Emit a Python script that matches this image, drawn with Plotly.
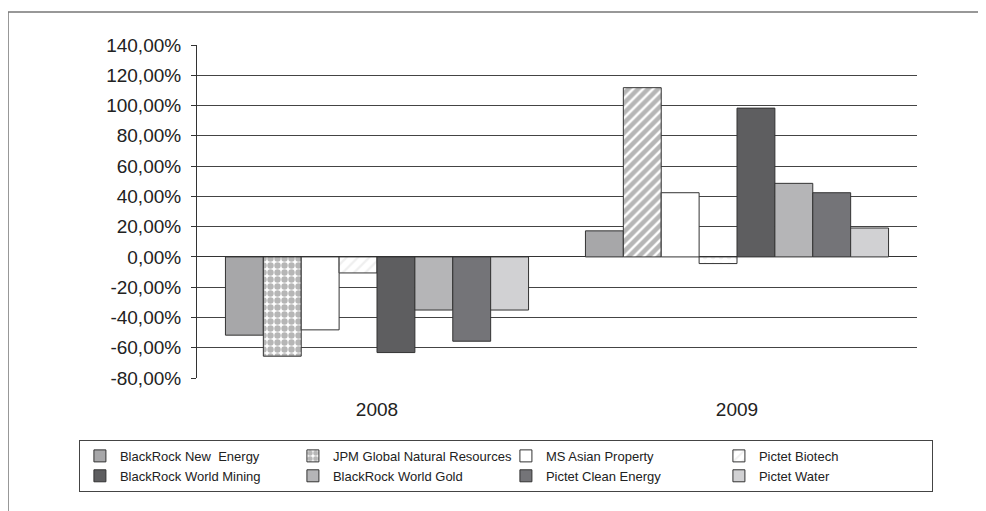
import plotly.graph_objects as go

years = ["2008", "2009"]
series_names = [
    "BlackRock New  Energy",
    "JPM Global Natural Resources",
    "MS Asian Property",
    "Pictet Biotech",
    "BlackRock World Mining",
    "BlackRock World Gold",
    "Pictet Clean Energy",
    "Pictet Water",
]
blackrock_new_energy = [-51.7, 17.2]
jpm_global_natural_resources = [-65.6, 111.8]
ms_asian_property = [-48.2, 42.4]
pictet_biotech = [-10.6, -4.4]
blackrock_world_mining = [-63.2, 98.3]
blackrock_world_gold = [-35.1, 48.6]
pictet_clean_energy = [-55.7, 42.4]
pictet_water = [-35.1, 19.1]

tick_values = [-80, -60, -40, -20, 0, 20, 40, 60, 80, 100, 120, 140]
tick_labels = ["-80,00%", "-60,00%", "-40,00%", "-20,00%", "0,00%", "20,00%",
               "40,00%", "60,00%", "80,00%", "100,00%", "120,00%", "140,00%"]

series_values = [
    blackrock_new_energy, jpm_global_natural_resources, ms_asian_property,
    pictet_biotech, blackrock_world_mining, blackrock_world_gold,
    pictet_clean_energy, pictet_water,
]
fill_colors = ["#a7a7a9", "#ffffff", "#ffffff", "#ffffff",
               "#5e5e60", "#b5b5b7", "#747478", "#d1d1d3"]
patterns = [
    None,
    dict(shape=[".", "/"], fgcolor="#6e6e6e", bgcolor="#ffffff", size=7, solidity=0.65),
    None,
    dict(shape=["/", "."], fgcolor="#e0e0e0", bgcolor="#ffffff", size=8, solidity=0.3),
    None, None, None, None,
]

fig = go.Figure()
for name, vals, col, pat in zip(series_names, series_values, fill_colors, patterns):
    marker = dict(color=col, line=dict(color="#333333", width=1))
    if pat is not None:
        marker["pattern"] = pat
    fig.add_trace(go.Bar(x=years, y=vals, name=name, marker=marker))

font_family = "Liberation Sans, Arial, sans-serif"

fig.update_layout(
    width=986, height=511,
    paper_bgcolor="white", plot_bgcolor="white",
    margin=dict(l=189, r=77, t=37, b=141, autoexpand=False),
    barmode="group", bargap=0.158, bargroupgap=0,
    font=dict(family=font_family, color="#222222"),
    showlegend=True,
    legend=dict(
        orientation="h", x=-0.164, xanchor="left", y=-0.186, yanchor="top",
        bordercolor="#444444", borderwidth=1, bgcolor="white",
        font=dict(size=13, family=font_family, color="#222222"),
        entrywidth=168, entrywidthmode="pixels",
        traceorder="normal", tracegroupgap=0,
    ),
    shapes=[dict(type="rect", xref="paper", yref="paper",
                 x0=-0.2625, x1=1.3, y0=-0.6, y1=1.099,
                 line=dict(color="#777777", width=1.5), layer="below")],
)

fig.update_yaxes(
    range=[-80, 140], tickmode="array", tickvals=tick_values, ticktext=tick_labels,
    showgrid=True, gridcolor="#444444", gridwidth=1,
    zeroline=True, zerolinecolor="#333333", zerolinewidth=1,
    showline=True, linecolor="#333333", linewidth=1,
    ticks="outside", ticklen=5, tickcolor="#333333",
    tickfont=dict(size=19, family=font_family, color="#222222"),
    ticklabelstandoff=6,
)
fig.update_xaxes(
    showgrid=False, showline=False, ticks="",
    tickfont=dict(size=19, family=font_family, color="#222222"),
    ticklabelstandoff=18,
)

fig.write_html("out.html")
